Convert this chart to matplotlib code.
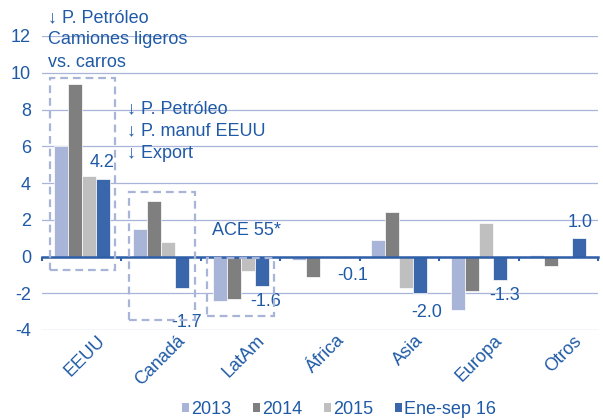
import matplotlib
matplotlib.use("Agg")
import matplotlib.pyplot as plt
import matplotlib.transforms as mtransforms
from matplotlib.patches import Rectangle, Patch
import numpy as np

plt.rcParams["font.family"] = ["Liberation Sans", "DejaVu Sans"]

# data
regions = ["EEUU", "Canadá", "LatAm", "África", "Asia", "Europa", "Otros"]
series = ["2013", "2014", "2015", "Ene-sep 16"]
v2013 = [6.0, 1.5, -2.4, -0.2, 0.9, -2.9, 0.1]
v2014 = [9.4, 3.0, -2.3, -1.1, 2.4, -1.9, -0.5]
v2015 = [4.4, 0.8, -0.8, 0.0, -1.7, 1.8, -0.05]
v2016 = [4.2, -1.7, -1.6, -0.1, -2.0, -1.3, 1.0]
yticks = [-4, -2, 0, 2, 4, 6, 8, 10, 12]

colors = ["#A9B4D9", "#7F7F80", "#BFBFBF", "#3A67AB"]
TXT = "#1F5AA6"
BOXC = "#A9B4D9"
FS = 13

fig = plt.figure(figsize=(6.03, 4.20), dpi=100)
ax = fig.add_axes([42 / 603, 90 / 420, 556 / 603, 294 / 420])

x = np.arange(len(regions))
w = 0.176
for i, (vals, col, lab) in enumerate(zip([v2013, v2014, v2015, v2016], colors, series)):
    ax.bar(x + (i - 1.5) * w, vals, w, color=col, edgecolor="white",
           linewidth=0.5, label=lab, zorder=2)

ax.set_xlim(-0.5, len(regions) - 0.5)
ax.set_ylim(-4, 12)
ax.set_yticks(yticks)
ax.set_yticklabels([str(t) for t in yticks], color=TXT, fontsize=FS)
ax.tick_params(axis="y", length=0, pad=8)
ax.yaxis.grid(True, color="#A9B4D9", linewidth=0.9, zorder=0)
ax.set_axisbelow(True)
for s in ["top", "right", "left"]:
    ax.spines[s].set_visible(False)

# category axis drawn on the zero line, ticks between groups
ax.spines["bottom"].set_position(("data", 0))
ax.spines["bottom"].set_color("#2E5FA8")
ax.spines["bottom"].set_linewidth(1.8)
ax.spines["bottom"].set_zorder(3)
ax.set_xticks(np.arange(len(regions) + 1) - 0.5)
ax.set_xticklabels([])
ax.tick_params(axis="x", length=3, width=1.5, color="#2E5FA8", direction="out")

trans = mtransforms.blended_transform_factory(ax.transData, ax.transAxes)
for i, r in enumerate(regions):
    ax.text(i + 0.19, -0.008, r, transform=trans, rotation=45,
            rotation_mode="anchor", ha="right", va="top", color=TXT, fontsize=FS)

# data labels of the last series
lab_off = [(-1, 17), (4, -35), (4, -16), (12, -17), (6, -19), (5, -15), (1, 16)]
for i, (v, off) in enumerate(zip(v2016, lab_off)):
    ax.annotate(f"{v:.1f}", (x[i] + 1.5 * w, v), xytext=off,
                textcoords="offset pixels", ha="center", va="center",
                color=TXT, fontsize=FS)

# dashed highlight boxes
boxes = [(-0.40, -0.72, 0.82, 10.46), (0.59, -3.45, 0.84, 6.98), (1.58, -3.23, 0.84, 3.15)]
for bx, by, bw, bh in boxes:
    ax.add_patch(Rectangle((bx, by), bw, bh, fill=False, edgecolor=BOXC,
                           linewidth=1.6, linestyle=(0, (3.5, 2.2)), zorder=4))

fig.text(48 / 603, 1 - 40 / 420, "↓ P. Petróleo\nCamiones ligeros\nvs. carros",
         ha="left", va="center", color=TXT, fontsize=FS, linespacing=1.4)
fig.text(127 / 603, 1 - 131 / 420, "↓ P. Petróleo\n↓ P. manuf EEUU\n↓ Export",
         ha="left", va="center", color=TXT, fontsize=FS, linespacing=1.4)
fig.text(247 / 603, 1 - 230 / 420, "ACE 55*", ha="center", va="center",
         color=TXT, fontsize=FS)

handles = [Patch(facecolor=c, edgecolor="none") for c in colors]
leg = fig.legend(handles, series, loc="center", bbox_to_anchor=(0.562, 0.025),
                 ncol=4, frameon=False, fontsize=FS, handlelength=0.4,
                 handleheight=0.4, handletextpad=0.1, columnspacing=1.2)
for t in leg.get_texts():
    t.set_color(TXT)

fig.savefig("out.png", dpi=100)
